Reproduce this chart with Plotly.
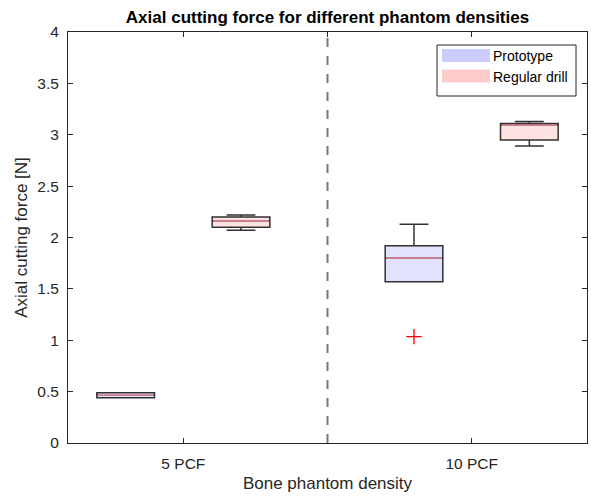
import plotly.graph_objects as go

# ---- data ----
group_labels = ["5 PCF", "10 PCF"]
group_ticks = [1.5, 4.0]
divider_x = 2.75
series_names = ["Prototype", "Regular drill"]
positions = {"Prototype": [1.0, 3.5], "Regular drill": [2.0, 4.5]}
q1 = {"Prototype": [0.44, 1.57], "Regular drill": [2.10, 2.95]}
median = {"Prototype": [0.47, 1.80], "Regular drill": [2.16, 3.095]}
q3 = {"Prototype": [0.49, 1.92], "Regular drill": [2.20, 3.11]}
lower = {"Prototype": [0.44, 1.57], "Regular drill": [2.07, 2.89]}
upper = {"Prototype": [0.49, 2.13], "Regular drill": [2.22, 3.13]}
outlier_x = [3.5]
outlier_y = [1.035]

box_fill = {"Prototype": "rgb(226,226,255)", "Regular drill": "rgb(255,226,226)"}
legend_fill = {"Prototype": "rgb(204,204,255)", "Regular drill": "rgb(255,204,204)"}
box_width = 0.5

# plot area in pixels (for legend placement)
W, H = 591, 498
L, R, T, B = 68, 4, 32, 55
pw, ph = W - L - R, H - T - B


def px_x(p):
    return (p - L) / pw


def px_y(p):
    return (H - B - p) / ph


fig = go.Figure()
for name in series_names:
    fig.add_trace(go.Box(
        name=name,
        x=positions[name],
        q1=q1[name], median=median[name], q3=q3[name],
        lowerfence=lower[name], upperfence=upper[name],
        width=box_width,
        whiskerwidth=0.5,
        fillcolor=box_fill[name],
        line=dict(color="rgb(50,50,50)", width=1.5),
        boxpoints=False,
        hoverinfo="skip",
        showlegend=False,
    ))

# median lines in MATLAB-like pink/red
for name in series_names:
    for xp, m in zip(positions[name], median[name]):
        fig.add_trace(go.Scatter(
            x=[xp - box_width / 2 + 0.01, xp + box_width / 2 - 0.01], y=[m, m],
            mode="lines", line=dict(color="rgb(236,140,160)", width=1.6),
            showlegend=False, hoverinfo="skip",
        ))

fig.add_trace(go.Scatter(
    x=outlier_x, y=outlier_y, mode="markers",
    marker=dict(symbol="cross-thin", size=11, line=dict(color="red", width=1.3)),
    showlegend=False, hoverinfo="skip",
))

fig.add_vline(x=divider_x, line=dict(color="rgb(120,120,120)", width=2, dash="dash"))

# custom MATLAB-style legend
axis_color = "#262626"
fig.add_shape(type="rect", xref="paper", yref="paper",
              x0=px_x(437), x1=px_x(576), y0=px_y(96), y1=px_y(45),
              line=dict(color=axis_color, width=1), fillcolor="white", layer="above")
row_centers = [55.5, 76]
for name, yc in zip(series_names, row_centers):
    fig.add_shape(type="rect", xref="paper", yref="paper",
                  x0=px_x(442), x1=px_x(490), y0=px_y(yc + 6.5), y1=px_y(yc - 6.5),
                  line=dict(width=0), fillcolor=legend_fill[name], layer="above")
    fig.add_annotation(xref="paper", yref="paper", x=px_x(491), y=px_y(yc + 1),
                       text=name, showarrow=False, xanchor="left", yanchor="middle",
                       font=dict(size=14, color="black"))

fig.update_layout(
    width=W, height=H,
    margin=dict(l=L, r=R, t=T, b=B),
    paper_bgcolor="white", plot_bgcolor="white",
    font=dict(family="Liberation Sans, Arial, sans-serif", color=axis_color),
    title=dict(text="<b>Axial cutting force for different phantom densities</b>",
               x=(L + W - R) / 2 / W, xanchor="center",
               y=1 - 17 / H, yanchor="middle",
               font=dict(size=17, color="black")),
    showlegend=False,
    xaxis=dict(range=[0.5, 5.0], tickvals=group_ticks + [divider_x],
               ticktext=group_labels + [""],
               ticks="inside", ticklen=5, tickcolor=axis_color,
               showline=True, linecolor=axis_color, linewidth=1, mirror="ticks",
               showgrid=False, zeroline=False,
               tickfont=dict(size=15.5, color=axis_color), ticklabelstandoff=6,
               title=dict(text="Bone phantom density", font=dict(size=17, color=axis_color),
                          standoff=6)),
    yaxis=dict(range=[0, 4], dtick=0.5, tick0=0,
               ticks="inside", ticklen=5, tickcolor=axis_color,
               showline=True, linecolor=axis_color, linewidth=1, mirror="ticks",
               showgrid=False, zeroline=False,
               tickfont=dict(size=15.5, color=axis_color), ticklabelstandoff=5,
               title=dict(text="Axial cutting force [N]", font=dict(size=17, color=axis_color),
                          standoff=5)),
)

fig.write_html("out.html")
